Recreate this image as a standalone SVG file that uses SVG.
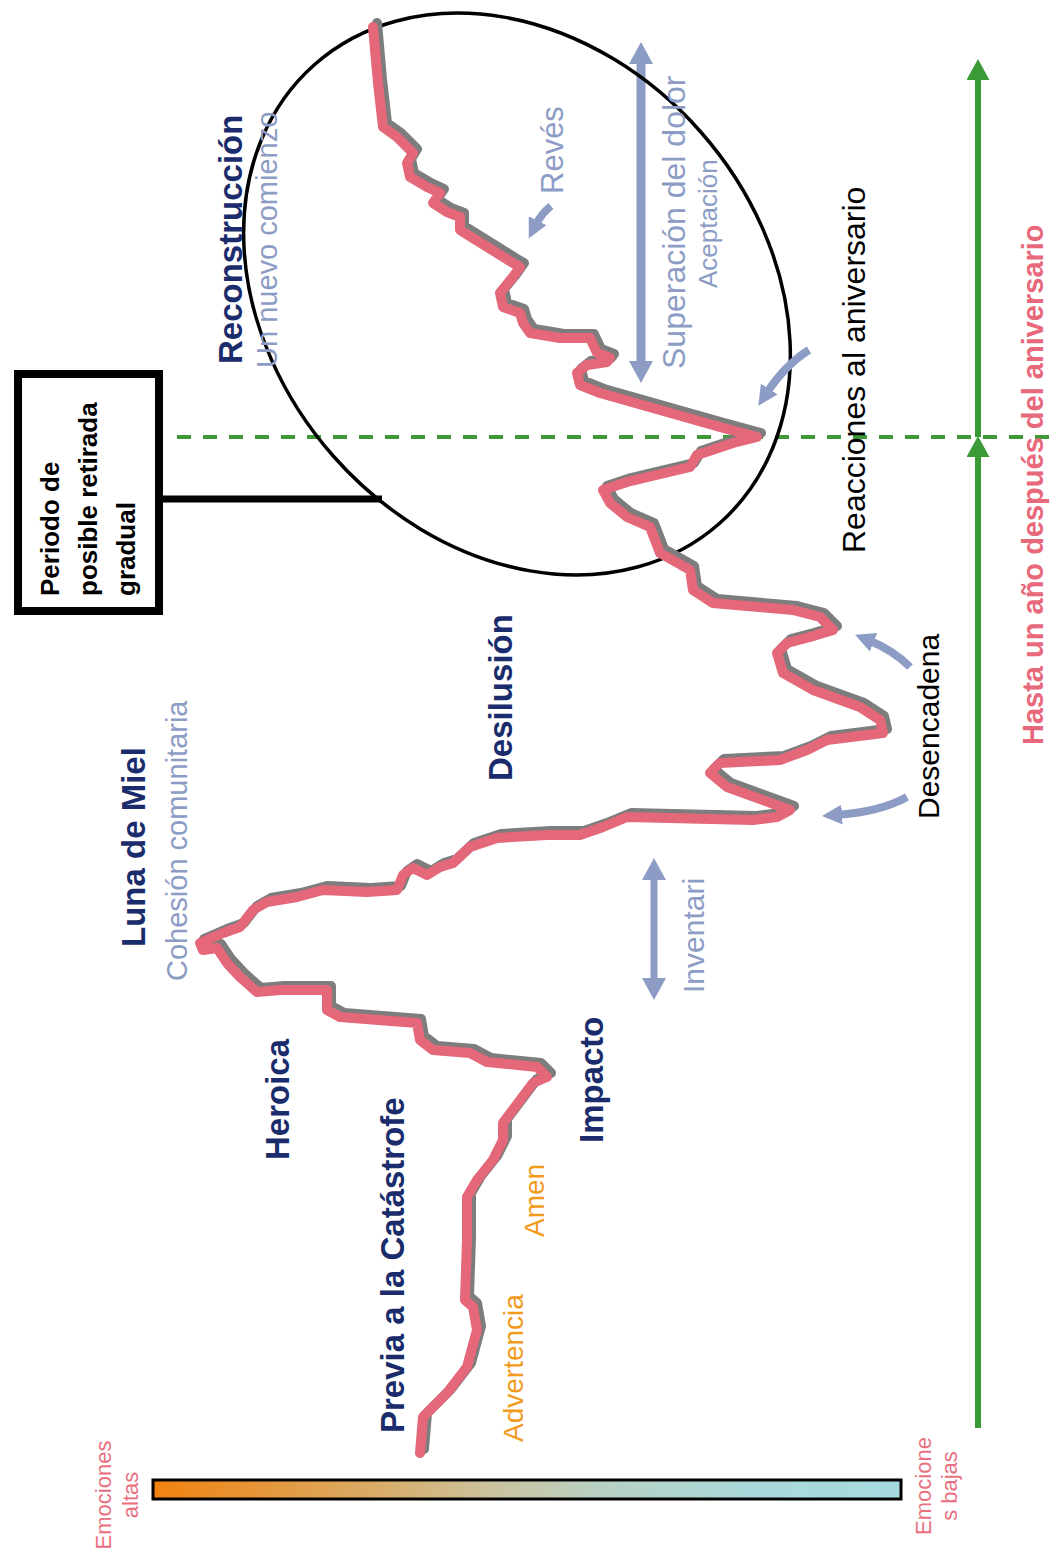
<svg xmlns="http://www.w3.org/2000/svg" width="1056" height="1553" viewBox="0 0 1056 1553">
<style>
  .lbl { font-family: "Liberation Sans", Arial, sans-serif; }
  .navy { font-weight: bold; font-size: 33px; fill: #1a2c6b; }
  .soft { fill: #8d9cc5; }
  .blk { fill: #000; }
  .orange { fill: #f29a1c; font-size: 28px; }
  .pink { fill: #e8687c; }
  .curve { fill: none; stroke-width: 10; stroke-linejoin: round; stroke-linecap: round; }
  .barrow { fill: none; stroke: #8d9cc5; stroke-width: 8; }
</style>
<defs>
  <linearGradient id="emo" x1="0" y1="0" x2="1" y2="0">
    <stop offset="0" stop-color="#f2820f"/>
    <stop offset="0.3" stop-color="#d9ac68"/>
    <stop offset="0.45" stop-color="#cbc39d"/>
    <stop offset="0.6" stop-color="#b8d1c4"/>
    <stop offset="0.8" stop-color="#a9d9da"/>
    <stop offset="1" stop-color="#a7dadf"/>
  </linearGradient>
  <marker id="ahBlue" markerUnits="userSpaceOnUse" markerWidth="22" markerHeight="24" viewBox="0 0 22 24" refX="8" refY="12" orient="auto-start-reverse">
    <path d="M0,0 L22,12 L0,24 Z" fill="#8d9cc5"/>
  </marker>
  <marker id="ahCurve" markerUnits="userSpaceOnUse" markerWidth="20" markerHeight="20" viewBox="0 0 20 20" refX="6" refY="10" orient="auto">
    <path d="M0,0 L20,10 L0,20 Z" fill="#8d9cc5"/>
  </marker>
  <marker id="ahGreen" markerUnits="userSpaceOnUse" markerWidth="21" markerHeight="23" viewBox="0 0 21 23" refX="7" refY="11.5" orient="auto">
    <path d="M0,0 L21,11.5 L0,23 Z" fill="#3a9a35"/>
  </marker>
</defs>
<rect width="1056" height="1553" fill="#fff"/>

<g id="connectors">
  <line id="anniversary-dash" x1="177" y1="437" x2="1056" y2="437" stroke="#3d9a36" stroke-width="4" stroke-dasharray="14 12"/>
  <line x1="978" y1="1428" x2="978" y2="450" stroke="#3a9a35" stroke-width="6" marker-end="url(#ahGreen)"/>
  <line x1="978" y1="437" x2="978" y2="73" stroke="#3a9a35" stroke-width="6" marker-end="url(#ahGreen)"/>
  <line x1="163" y1="499" x2="382" y2="499" stroke="#000" stroke-width="7"/>
  <line x1="641" y1="56" x2="641" y2="369" stroke="#8d9cc5" stroke-width="9" marker-start="url(#ahBlue)" marker-end="url(#ahBlue)"/>
  <line x1="654" y1="872" x2="654" y2="986" stroke="#8d9cc5" stroke-width="7" marker-start="url(#ahBlue)" marker-end="url(#ahBlue)"/>
</g>

<g id="recovery-ellipse">
  <ellipse cx="517" cy="294" rx="306" ry="245" transform="rotate(48.6 517 294)" fill="none" stroke="#000" stroke-width="3.5"/>
</g>

<g id="emotion-curve">
  <polyline class="curve" stroke="#7d7d7d" transform="translate(4,-4)" points="373,27 378,83 383,127 397,137 413,153 407,163 410,177 427,187 440,193 433,203 447,212 460,217 460,230 513,263 520,267 513,277 500,293 503,307 520,313 523,323 530,333 560,338 590,338 597,353 610,358 607,362 587,365 577,373 580,385 600,393 660,410 720,427 757,437 733,443 697,455 690,467 627,482 603,490 610,503 627,517 650,527 660,553 690,570 693,590 713,603 793,610 820,617 833,630 810,637 787,643 777,653 783,673 813,690 860,707 880,720 883,733 827,740 807,750 780,760 720,763 710,773 727,787 790,810 777,817 753,820 627,817 603,827 580,835 547,835 497,838 470,847 453,863 440,867 427,875 413,868 403,875 397,890 367,892 323,890 297,897 267,902 253,910 240,927 223,933 200,943 203,950 217,948 227,963 240,977 257,992 280,990 327,990 327,1010 340,1017 417,1023 420,1040 433,1050 470,1053 487,1062 537,1067 547,1077 533,1083 503,1123 503,1140 493,1160 477,1180 467,1197 467,1240 465,1300 473,1307 477,1330 467,1367 447,1393 423,1417 420,1453"/>
  <polyline class="curve" stroke="#e4677a" points="373,27 378,83 383,127 397,137 413,153 407,163 410,177 427,187 440,193 433,203 447,212 460,217 460,230 513,263 520,267 513,277 500,293 503,307 520,313 523,323 530,333 560,338 590,338 597,353 610,358 607,362 587,365 577,373 580,385 600,393 660,410 720,427 757,437 733,443 697,455 690,467 627,482 603,490 610,503 627,517 650,527 660,553 690,570 693,590 713,603 793,610 820,617 833,630 810,637 787,643 777,653 783,673 813,690 860,707 880,720 883,733 827,740 807,750 780,760 720,763 710,773 727,787 790,810 777,817 753,820 627,817 603,827 580,835 547,835 497,838 470,847 453,863 440,867 427,875 413,868 403,875 397,890 367,892 323,890 297,897 267,902 253,910 240,927 223,933 200,943 203,950 217,948 227,963 240,977 257,992 280,990 327,990 327,1010 340,1017 417,1023 420,1040 433,1050 470,1053 487,1062 537,1067 547,1077 533,1083 503,1123 503,1140 493,1160 477,1180 467,1197 467,1240 465,1300 473,1307 477,1330 467,1367 447,1393 423,1417 420,1453"/>
</g>

<g id="curved-arrows">
  <path class="barrow" d="M551,206 Q541,214 535,226" marker-end="url(#ahCurve)"/>
  <path class="barrow" d="M809,350 Q785,365 766,394" marker-end="url(#ahCurve)"/>
  <path class="barrow" d="M910,667 Q893,650 868,640" marker-end="url(#ahCurve)"/>
  <path class="barrow" d="M907,797 Q880,812 836,815" marker-end="url(#ahCurve)"/>
</g>

<g id="withdrawal-box">
  <rect x="18" y="374" width="141" height="237" fill="#fff" stroke="#000" stroke-width="8"/>
  <g class="lbl" font-weight="bold" font-size="26" fill="#000">
    <text transform="translate(59,596) rotate(-90)">Periodo de</text>
    <text transform="translate(97,596) rotate(-90)">posible retirada</text>
    <text transform="translate(135,596) rotate(-90)">gradual</text>
  </g>
</g>

<g id="phase-reconstruccion">
  <text class="lbl navy" transform="translate(242,364) rotate(-90)">Reconstrucción</text>
  <text class="lbl soft" font-size="29" transform="translate(277,368) rotate(-90)">Un nuevo comienzo</text>
</g>
<g id="label-reves">
  <text class="lbl soft" font-size="31" transform="translate(563,194) rotate(-90)">Revés</text>
</g>
<g id="label-superacion">
  <text class="lbl soft" font-size="32" transform="translate(685,369) rotate(-90)">Superación del dolor</text>
  <text class="lbl soft" font-size="26" transform="translate(717,288) rotate(-90)">Aceptación</text>
</g>
<g id="label-reacciones">
  <text class="lbl blk" font-size="32" transform="translate(865,553) rotate(-90)">Reacciones al aniversario</text>
</g>
<g id="label-hasta">
  <text class="lbl pink" font-weight="bold" font-size="29" transform="translate(1043,745) rotate(-90)">Hasta un año después del aniversario</text>
</g>
<g id="phase-luna">
  <text class="lbl navy" transform="translate(145,947) rotate(-90)">Luna de Miel</text>
  <text class="lbl soft" font-size="29" transform="translate(187,981) rotate(-90)">Cohesión comunitaria</text>
</g>
<g id="phase-desilusion">
  <text class="lbl navy" transform="translate(512,781) rotate(-90)">Desilusión</text>
</g>
<g id="label-desencadena">
  <text class="lbl blk" font-size="30" transform="translate(939,819) rotate(-90)">Desencadena</text>
</g>
<g id="label-inventari">
  <text class="lbl soft" font-size="30" transform="translate(704,993) rotate(-90)">Inventari</text>
</g>
<g id="phase-heroica">
  <text class="lbl navy" transform="translate(289,1160) rotate(-90)">Heroica</text>
</g>
<g id="phase-previa">
  <text class="lbl navy" font-size="34" transform="translate(404,1433) rotate(-90)">Previa a la Catástrofe</text>
</g>
<g id="phase-impacto">
  <text class="lbl navy" transform="translate(603,1143) rotate(-90)">Impacto</text>
</g>
<g id="label-amen">
  <text class="lbl orange" transform="translate(544,1237) rotate(-90)">Amen</text>
</g>
<g id="label-advertencia">
  <text class="lbl orange" transform="translate(523,1442) rotate(-90)">Advertencia</text>
</g>

<g id="emotion-scale">
  <rect x="153" y="1480" width="748" height="19" fill="url(#emo)" stroke="#000" stroke-width="3"/>
  <g class="lbl" font-size="22" fill="#e8707f" text-anchor="middle">
    <text transform="translate(111,1495) rotate(-90)">Emociones</text>
    <text transform="translate(138,1495) rotate(-90)">altas</text>
    <text transform="translate(931,1486) rotate(-90)">Emocione</text>
    <text transform="translate(957,1486) rotate(-90)">s bajas</text>
  </g>
</g>
</svg>
